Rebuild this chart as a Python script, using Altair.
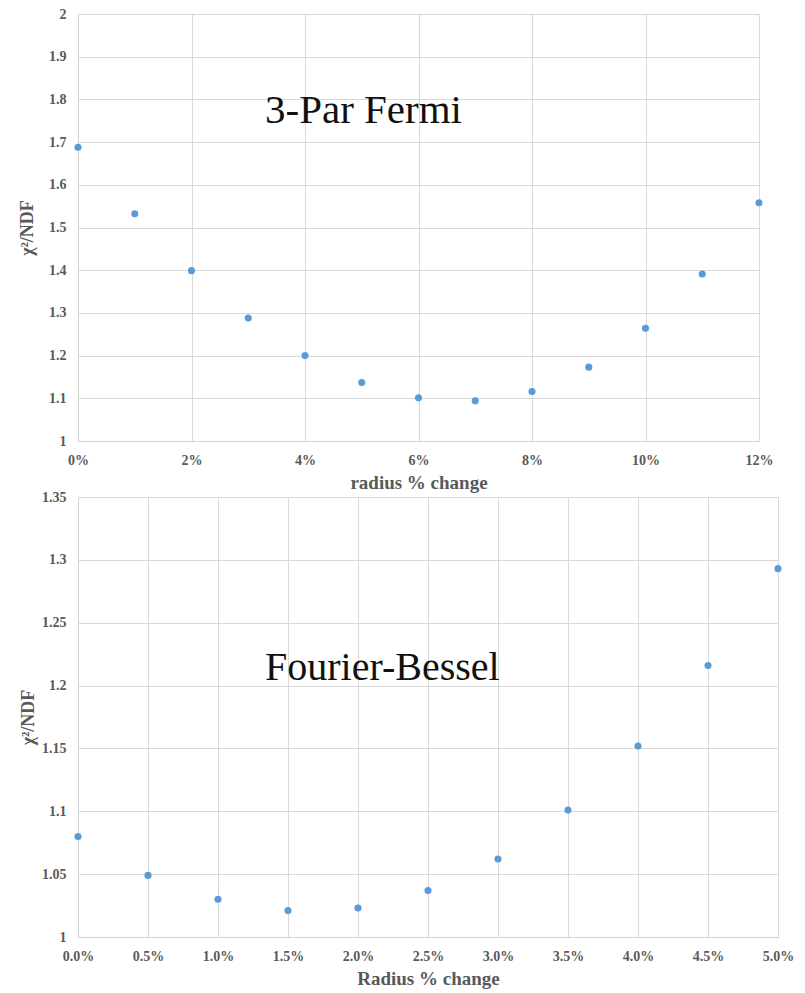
import altair as alt
import pandas as pd

# 3-parameter Fermi fit: chi^2/NDF versus radius change
fermi_pct = [0, 1, 2, 3, 4, 5, 6, 7, 8, 9, 10, 11, 12]
fermi_chi2 = [1.688, 1.532, 1.399, 1.288, 1.200, 1.137, 1.101, 1.094, 1.116, 1.173, 1.264, 1.391, 1.558]

# Fourier-Bessel fit: chi^2/NDF versus radius change
fb_pct = [0.0, 0.5, 1.0, 1.5, 2.0, 2.5, 3.0, 3.5, 4.0, 4.5, 5.0]
fb_chi2 = [1.080, 1.049, 1.030, 1.021, 1.023, 1.037, 1.062, 1.101, 1.152, 1.216, 1.293]

panel_titles = ["3-Par Fermi", "Fourier-Bessel"]
x_titles = ["radius % change", "Radius % change"]
y_title = "\u03c7\u00b2/NDF"

SERIF = "Liberation Serif"
GRAY = "#595959"
GRID = "#d9d9d9"
DOT = "#5b9bd5"

fermi = pd.DataFrame({"r": [p / 100 for p in fermi_pct], "chi2": fermi_chi2})
fb = pd.DataFrame({"r": [p / 100 for p in fb_pct], "chi2": fb_chi2})


def panel(df, width, height, x_dom, x_step, x_fmt, y_dom, y_step, y_fmt,
          x_title, label, label_x, label_y, label_size, y_title_pad):
    n_x = int(round((x_dom[1] - x_dom[0]) / x_step))
    n_y = int(round((y_dom[1] - y_dom[0]) / y_step))
    x_ticks = [round(x_dom[0] + i * x_step, 6) for i in range(n_x + 1)]
    y_ticks = [round(y_dom[0] + i * y_step, 6) for i in range(n_y + 1)]

    pts = alt.Chart(df).mark_circle(size=50, opacity=1, color=DOT).encode(
        x=alt.X("r:Q", scale=alt.Scale(domain=x_dom, nice=False, zero=False),
                axis=alt.Axis(values=x_ticks, format=x_fmt, title=x_title,
                              titlePadding=6, labelFlush=False,
                              labelOverlap=False)),
        y=alt.Y("chi2:Q", scale=alt.Scale(domain=y_dom, nice=False, zero=False),
                axis=alt.Axis(values=y_ticks, format=y_fmt, title=y_title,
                              titlePadding=y_title_pad, labelFlush=False,
                              labelOverlap=False)),
    )
    txt = alt.Chart(pd.DataFrame({"t": [label]})).mark_text(
        font=SERIF, fontSize=label_size, color="#111111", align="left",
        baseline="alphabetic",
    ).encode(text="t:N", x=alt.value(label_x), y=alt.value(label_y))
    return alt.layer(pts, txt).properties(width=width, height=height)


top = panel(fermi, 681, 427, [0, 0.12], 0.02, ".0%", [1, 2], 0.1, ".1~f",
            x_titles[0], panel_titles[0], 187, 109, 41, 12)
bottom = panel(fb, 700, 440, [0, 0.05], 0.005, ".1%", [1, 1.35], 0.05, ".2~f",
               x_titles[1], panel_titles[1], 187, 183, 40, 4)

chart = alt.vconcat(top, bottom, spacing=-2).properties(
    padding={"left": 18, "top": 7, "right": 8, "bottom": 2}
).configure_view(stroke=None).configure_axis(
    labelFont=SERIF, labelFontWeight="bold", labelFontSize=14, labelColor=GRAY,
    titleFont=SERIF, titleFontWeight="bold", titleFontSize=19, titleColor=GRAY,
    gridColor=GRID, gridWidth=1, domainColor="#d0d0d0", ticks=False,
    labelPadding=12,
).configure_axisY(titleFontSize=18)

chart.save("out.html", embed_options={"renderer": "svg", "actions": False})
